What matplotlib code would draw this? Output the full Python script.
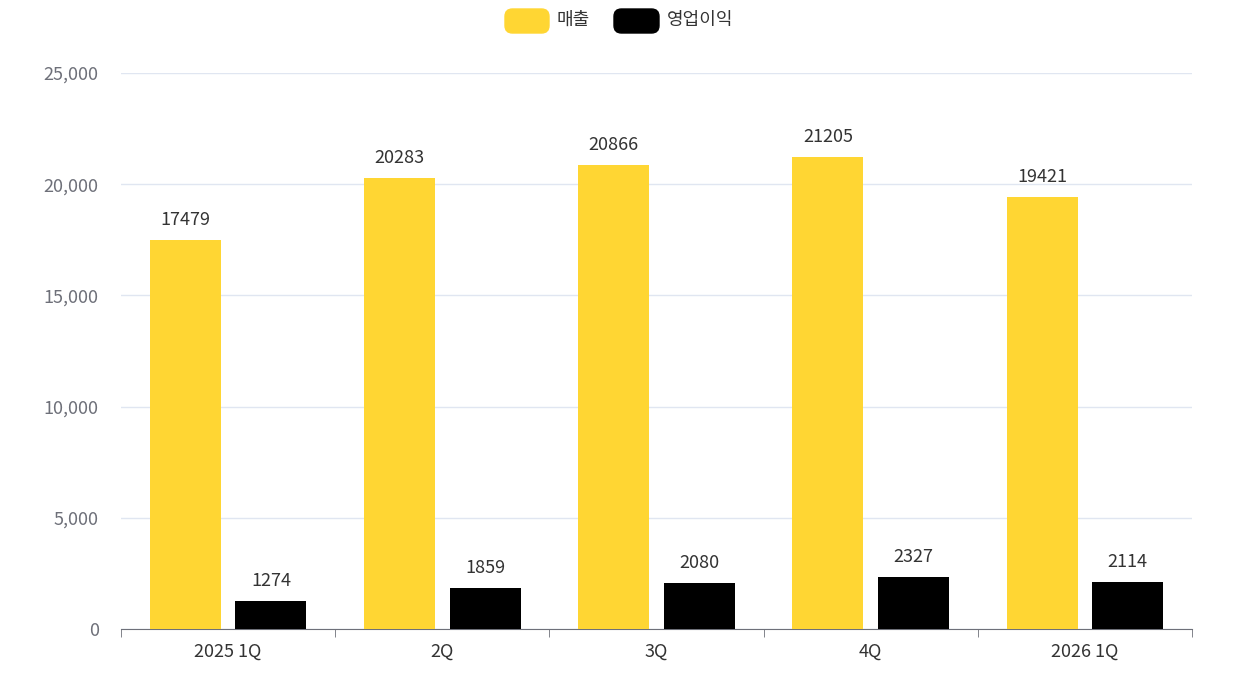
import matplotlib
matplotlib.use("Agg")
import matplotlib.pyplot as plt
import numpy as np
from matplotlib.patches import FancyBboxPatch

plt.rcParams['font.family'] = ['Noto Sans CJK KR', 'DejaVu Sans']

categories = ["2025 1Q", "2Q", "3Q", "4Q", "2026 1Q"]
sales = [17479, 20283, 20866, 21205, 19421]
op_profit = [1274, 1859, 2080, 2327, 2114]
yticks = [0, 5000, 10000, 15000, 20000, 25000]

W, H = 1247, 685
fig = plt.figure(figsize=(W/100, H/100), dpi=100)
ax = fig.add_axes([121/W, 1-629/H, (1192-121)/W, (629-73)/H])

x = np.arange(len(categories))
bw = 0.332
off = 0.2
yellow = "#FFD633"
ax.bar(x-off, sales, bw, color=yellow, zorder=3)
ax.bar(x+off, op_profit, bw, color="#000000", zorder=3)
for xi, v in zip(x, sales):
    ax.text(xi-off, v+500, str(v), ha="center", va="bottom", fontsize=13, color="#333333")
for xi, v in zip(x, op_profit):
    ax.text(xi+off, v+500, str(v), ha="center", va="bottom", fontsize=13, color="#333333")

ax.set_xlim(-0.5, len(categories)-0.5)
ax.set_ylim(0, 25000)
ax.set_yticks(yticks)
ax.set_yticklabels([f"{t:,}" for t in yticks], fontsize=13, color="#6E7079")
ax.yaxis.grid(True, color="#E0E6F1", lw=1, zorder=0)
ax.tick_params(axis="y", length=0, pad=16)
ax.set_xticks(x)
ax.set_xticklabels(categories, fontsize=13, color="#333333")
ax.set_xticks(np.arange(-0.5, len(categories)), minor=True)
ax.tick_params(axis="x", which="major", length=0, pad=10)
ax.tick_params(axis="x", which="minor", length=6, color="#6E7079", direction="out")
for s in ["top", "right", "left"]:
    ax.spines[s].set_visible(False)
ax.spines["bottom"].set_color("#6E7079")

# legend
for (x0, x1, c, label) in [(505, 549, yellow, "매출"), (614, 659, "#000000", "영업이익")]:
    p = FancyBboxPatch((x0/W, 1-33/H), (x1-x0)/W, 24/H,
                       boxstyle="round,pad=0,rounding_size=0.006",
                       transform=fig.transFigure, color=c, mutation_aspect=W/H)
    fig.patches.append(p)
    fig.text((x1+8)/W, 1-20/H, label, fontsize=13, color="#333333", va="center", ha="left")

fig.savefig("out.png", dpi=100)
